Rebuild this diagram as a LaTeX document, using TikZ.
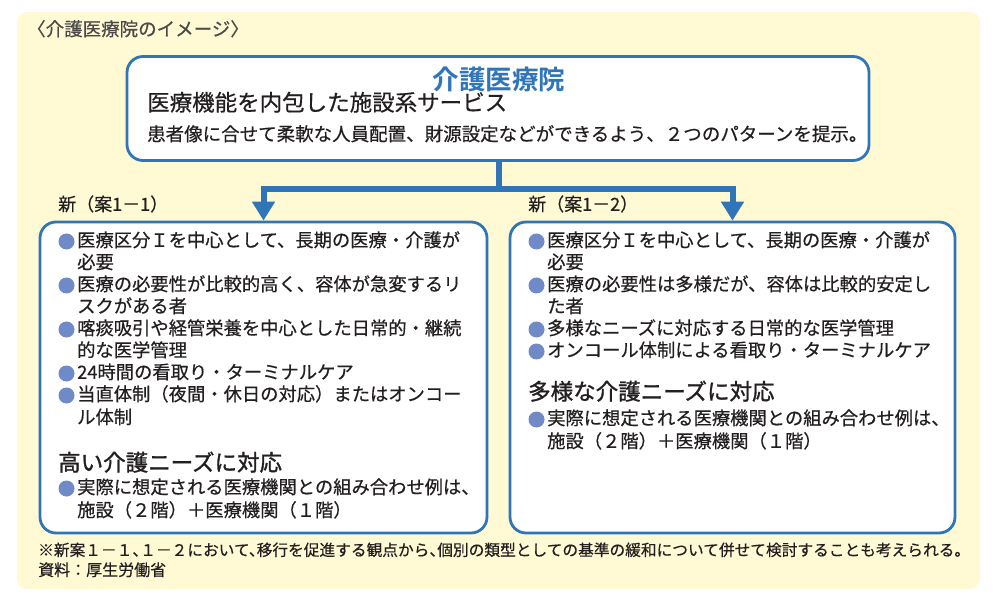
\documentclass[tikz,border=0pt]{standalone}
\usepackage{fontspec}
\setmainfont[FakeBold=0.5]{Noto Sans CJK JP}
\newfontfamily\fnfont[RawFeature=+halt,FakeBold=0.5]{Noto Sans CJK JP}
\newfontfamily\medfont[FakeBold=1.3]{Noto Sans CJK JP}
\newfontfamily\boldfont{Noto Sans CJK JP Bold}
\usetikzlibrary{arrows.meta}
\definecolor{bgy}{HTML}{FFF9D4}
\definecolor{mainblue}{HTML}{2F75B8}
\definecolor{bulblue}{HTML}{6F8AC6}
\definecolor{txt}{HTML}{231F20}
\definecolor{titlegray}{HTML}{4A4A4A}
\newcommand\fsz[1]{\fontsize{#1}{#1}\selectfont}
\begin{document}
\begin{tikzpicture}[x=1pt,y=-1pt,
  tx/.style={inner sep=0pt, anchor=west, text=txt, text height=0.88em, text depth=0.12em},
  body/.style={tx, font=\fsz{18.3}},
  head/.style={tx, font=\medfont\fsz{22.5}},
  bul/.style={fill=bulblue},
  panel/.style={draw=mainblue, line width=2.8pt, fill=white, rounded corners=16pt, inner sep=0pt},
  conn/.style={draw=mainblue, line width=6pt},
  arr/.style={conn, -{Triangle[width=22pt,length=19pt]}}
]
\useasboundingbox (0,0) rectangle (995,601);
\fill[bgy, rounded corners=10pt] (17,12) rectangle (980,589);
\node[tx, font=\fsz{18.5}, text=titlegray] (title) at (27,32) {〈介護医療院のイメージ〉};

% top box
\node[panel, minimum width=742pt, minimum height=104pt] (top) at (498,108.5) {};
\node[inner sep=0pt, font=\boldfont\fsz{26.5}, text=mainblue] (t1) at (499,79) {介護医療院};
\node[tx, font=\fsz{22.5}] (t2) at (147,107) {医療機能を内包した施設系サービス};
\node[tx, font=\fsz{18.5}] (t3) at (147,137) {患者像に合せて柔軟な人員配置、財源設定などができるよう、２つのパターンを提示。};

% side boxes
\node[panel, minimum width=447pt, minimum height=311pt] (L) at (263.5,377.5) {};
\node[panel, minimum width=445pt, minimum height=311pt] (R) at (732.5,377.5) {};

% connectors
\coordinate (j) at (499,189);
\draw[conn] (top.south -| j) -- (j);
\draw[arr, shorten <=-3pt] (j) -| (L.north);
\draw[arr, shorten <=-3pt] (j) -| (R.north);

% labels
\node[tx, font=\fsz{18}] (lab1) at (58,207) {新（案1－1）};
\node[tx, font=\fsz{18}] (lab2) at (528,207) {新（案1－2）};

% bullets
\foreach \y in {241.5,285.5,329.5,373.5,395.5,488.5}
  \fill[bul] (66.5,\y) circle[radius=8pt];
\foreach \y in {241.5,285.5,329.5,351.5,419.5}
  \fill[bul] (536.5,\y) circle[radius=8pt];

% left content
\node[body] (l1) at (77,243) {医療区分Ｉを中心として、長期の医療・介護が};
\node[body] (l2) at (77,265) {必要};
\node[body] (l3) at (77,287) {医療の必要性が比較的高く、容体が急変するリ};
\node[body] (l4) at (77,309) {スクがある者};
\node[body] (l5) at (77,331) {喀痰吸引や経管栄養を中心とした日常的・継続};
\node[body] (l6) at (77,353) {的な医学管理};
\node[body] (l7) at (77,375) {24時間の看取り・ターミナルケア};
\node[body] (l8) at (77,397) {当直体制（夜間・休日の対応）またはオンコー};
\node[body] (l9) at (77,420) {ル体制};
\node[head] (lh) at (58,467) {高い介護ニーズに対応};
\node[body] (l10) at (77,490) {実際に想定される医療機関との組み合わせ例は、};
\node[body] (l11) at (77,513) {施設（２階）＋医療機関（１階）};

% right content
\node[body] (r1) at (547,243) {医療区分Ｉを中心として、長期の医療・介護が};
\node[body] (r2) at (547,265) {必要};
\node[body] (r3) at (547,287) {医療の必要性は多様だが、容体は比較的安定し};
\node[body] (r4) at (547,309) {た者};
\node[body] (r5) at (547,331) {多様なニーズに対応する日常的な医学管理};
\node[body] (r6) at (547,353) {オンコール体制による看取り・ターミナルケア};
\node[head] (rh) at (528,396) {多様な介護ニーズに対応};
\node[body] (r7) at (547,421) {実際に想定される医療機関との組み合わせ例は、};
\node[body] (r8) at (547,444) {施設（２階）＋医療機関（１階）};

% footnotes
\node[tx, font=\fnfont\fsz{15.7}] (fn) at (38,552) {※新案１－１、１－２において、移行を促進する観点から、個別の類型としての基準の緩和について併せて検討することも考えられる。};
\node[tx, font=\fsz{16}] (src) at (38,572) {資料：厚生労働省};
\end{tikzpicture}
\end{document}
